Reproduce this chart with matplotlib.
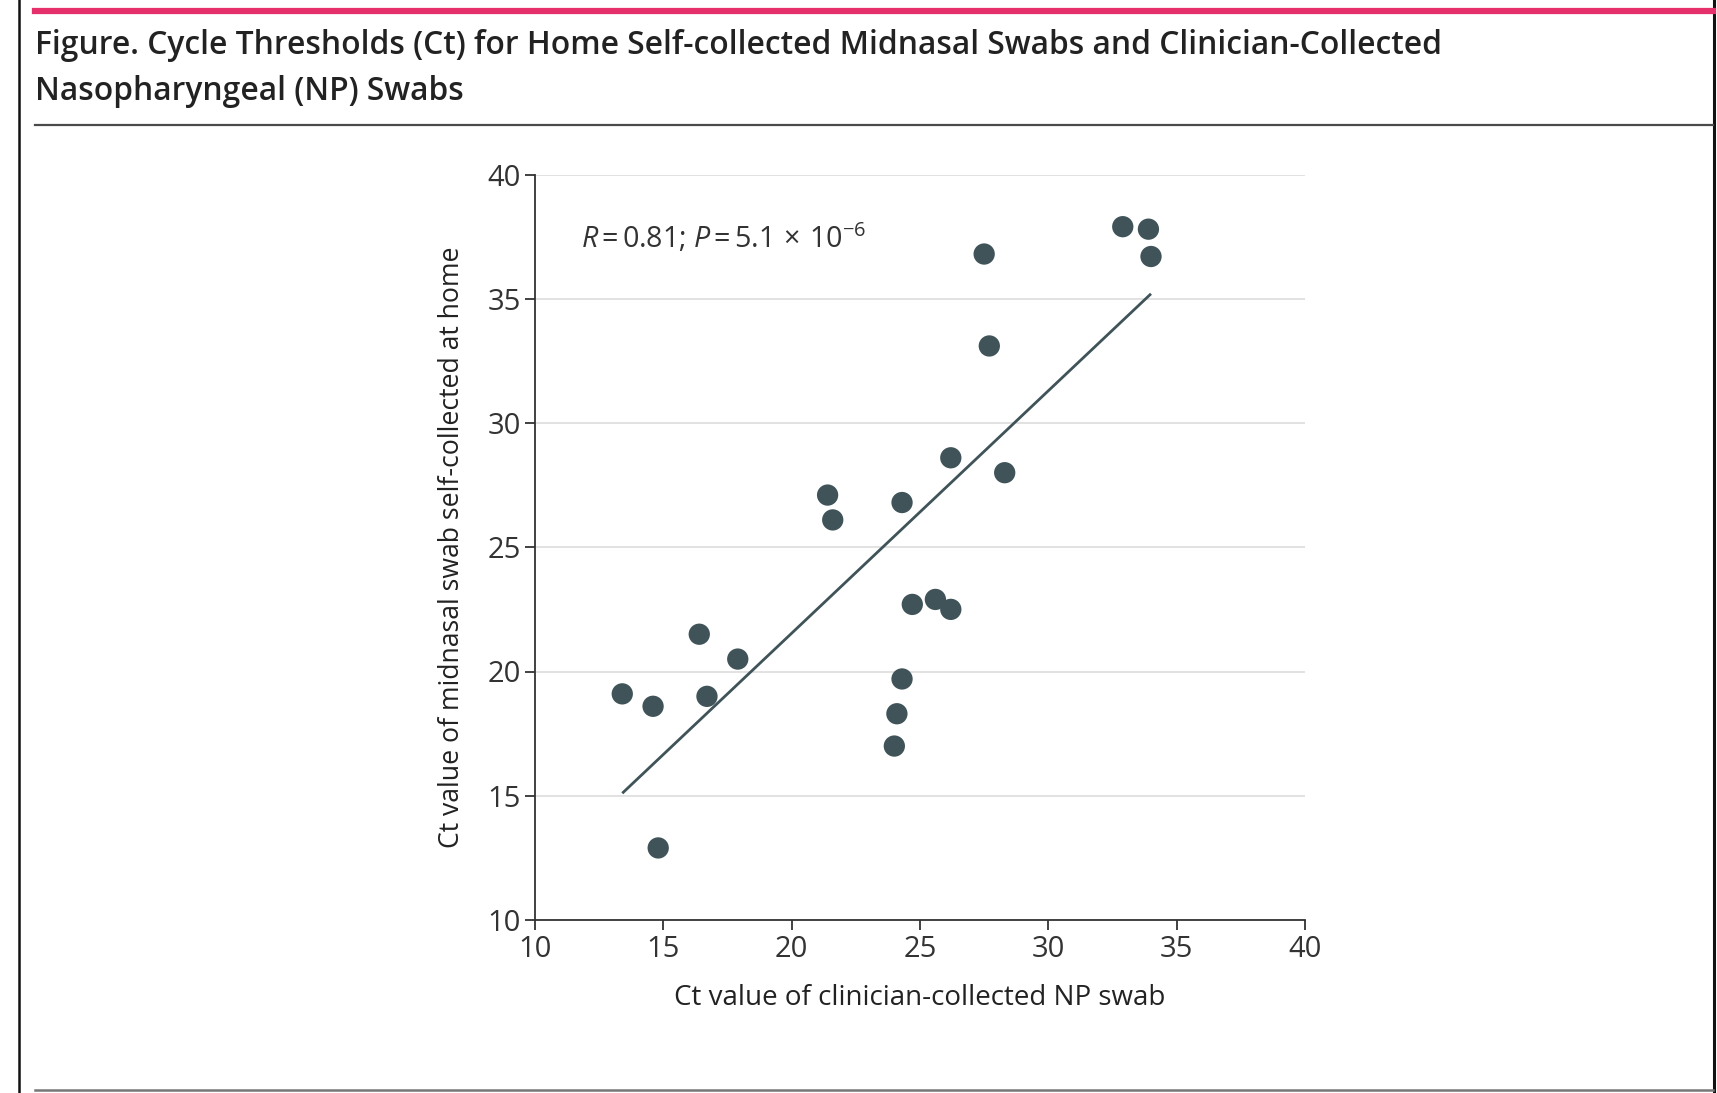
import matplotlib
matplotlib.use("Agg")
import matplotlib.pyplot as plt
from matplotlib.lines import Line2D

# values
np_ct = [13.4, 14.6, 14.8, 16.4, 16.7, 17.9, 21.4, 21.6, 24.3, 24.3, 24.1, 24.0,
         24.7, 25.6, 26.2, 26.2, 28.3, 27.5, 27.7, 32.9, 33.9, 34.0]
home_ct = [19.1, 18.6, 12.9, 21.5, 19.0, 20.5, 27.1, 26.1, 26.8, 19.7, 18.3, 17.0,
           22.7, 22.9, 22.5, 28.6, 28.0, 36.8, 33.1, 37.9, 37.8, 36.7]
fit_x = [13.4, 34.0]
fit_y = [15.1, 35.2]
ticks = [10, 15, 20, 25, 30, 35, 40]

W, H = 1717, 1093
dot_color = "#3f5358"
plt.rcParams['font.family'] = ['Open Sans', 'DejaVu Sans']
plt.rcParams['mathtext.fontset'] = 'custom'
plt.rcParams['mathtext.rm'] = 'Open Sans'
plt.rcParams['mathtext.it'] = 'Open Sans:italic'

fig = plt.figure(figsize=(W / 100, H / 100), dpi=100, facecolor="white")

def fx(px): return px / W
def fy(py): return 1 - py / H

# page furniture: side rules, pink header bar, title rule, bottom rule
fig.add_artist(Line2D([fx(19), fx(19)], [0, 1], transform=fig.transFigure, color="#111111", lw=1.8))
fig.add_artist(Line2D([fx(1714), fx(1714)], [0, 1], transform=fig.transFigure, color="#111111", lw=2.2))
fig.add_artist(Line2D([fx(35), fx(1713)], [fy(11), fy(11)], transform=fig.transFigure, color="#e5306c", lw=4.5))
fig.add_artist(Line2D([fx(35), fx(1713)], [fy(125), fy(125)], transform=fig.transFigure, color="#4a4a4a", lw=1.6))
fig.add_artist(Line2D([fx(35), fx(1713)], [fy(1090), fy(1090)], transform=fig.transFigure, color="#777777", lw=1.8))

fig.text(fx(35), fy(46), "Figure. Cycle Thresholds (Ct) for Home Self-collected Midnasal Swabs and Clinician-Collected",
         fontsize=22.9, weight='semibold', color="#222222", va="center", ha="left")
fig.text(fx(35), fy(92), "Nasopharyngeal (NP) Swabs",
         fontsize=22.9, weight='semibold', color="#222222", va="center", ha="left")

ax = fig.add_axes([fx(535), fy(920), fx(1305) - fx(535), fy(174.5) - fy(920)])
ax.set_xlim(10, 40)
ax.set_ylim(10, 40)
ax.set_xticks(ticks)
ax.set_yticks(ticks)
ax.grid(axis='y', color="#dddddd", lw=1.2)
ax.set_axisbelow(True)
for s in ['top', 'right']:
    ax.spines[s].set_visible(False)
for s in ['left', 'bottom']:
    ax.spines[s].set_color("#333333")
    ax.spines[s].set_linewidth(1.3)
ax.tick_params(direction='out', length=7, width=1.3, color="#333333",
               labelsize=21, labelcolor="#333333", pad=3)
ax.tick_params(axis='x', pad=4)

ax.plot(fit_x, fit_y, color=dot_color, lw=2.0, zorder=2, solid_capstyle='butt')
ax.scatter(np_ct, home_ct, s=235, color=dot_color, edgecolors='none', zorder=3, clip_on=False)

ax.text(11.8, 37.45, r"$\mathit{R}\,$=$\,$0.81; $\mathit{P}\,$=$\,$5.1$\,\times\,$10$^{-6}$",
        fontsize=20.6, color="#333333", va="center", ha="left")

ax.set_xlabel("Ct value of clinician-collected NP swab", fontsize=20, color="#222222", labelpad=14)
ax.set_ylabel("Ct value of midnasal swab self-collected at home", fontsize=19.2, color="#222222", labelpad=16)

fig.savefig("out.png", dpi=100, facecolor="white")
